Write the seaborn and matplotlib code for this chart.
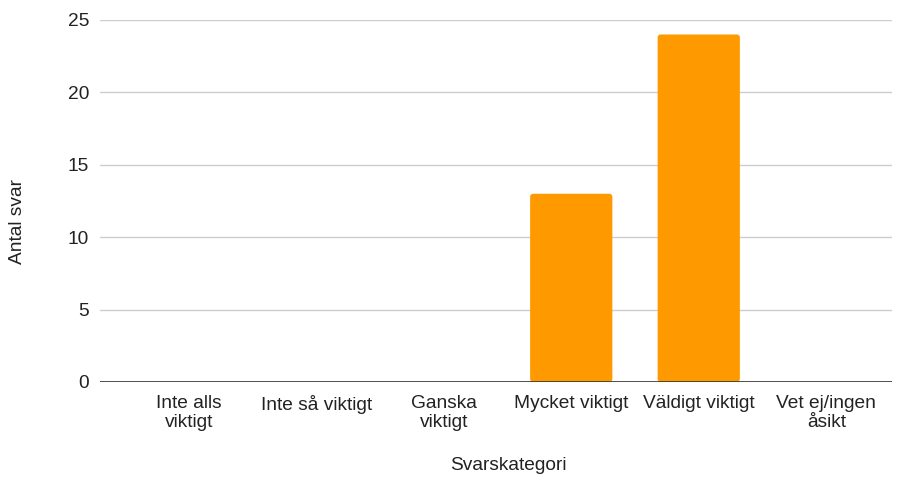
import matplotlib
matplotlib.use("Agg")
import matplotlib.pyplot as plt
import seaborn as sns
import pandas as pd
from matplotlib.patches import FancyBboxPatch

categories = ["Inte alls\nviktigt", "Inte så viktigt", "Ganska\nviktigt",
              "Mycket viktigt", "Väldigt viktigt", "Vet ej/ingen\nåsikt"]
values = [0, 0, 0, 13, 24, 0]
yticks = [0, 5, 10, 15, 20, 25]

sns.set_theme(style="white")
plt.rcParams['font.family'] = ['Liberation Sans', 'DejaVu Sans']

df = pd.DataFrame({"cat": categories, "val": values})

fig = plt.figure(figsize=(9.04, 4.88), dpi=100)
ax = fig.add_axes([100/904, 1-382/488, (892-100)/904, (382-20)/488])

sns.barplot(data=df, x="cat", y="val", color="#ff9900", width=0.645,
            saturation=1, ax=ax, zorder=3)

# rounded corners
for p in list(ax.patches):
    if p.get_height() > 0:
        x, y, w, h = p.get_x(), p.get_y(), p.get_width(), p.get_height()
        fb = FancyBboxPatch((x, y), w, h, boxstyle="round,pad=0,rounding_size=0.024",
                            mutation_aspect=8.8,
                            facecolor="#ff9900", edgecolor="none", zorder=3)
        p.set_visible(False)
        ax.add_patch(fb)

ax.set_xlim(-0.5 - 25/127.5, 5.5 + 2/127.5)
ax.set_ylim(0, 25)
ax.set_yticks(yticks)
ax.set_yticklabels([str(v) for v in yticks])
ax.grid(axis="y", color="#cccccc", linewidth=1, zorder=0)
ax.axhline(0, color="#333333", linewidth=1.2, zorder=4)
for s in ax.spines.values():
    s.set_visible(False)
ax.tick_params(axis="both", length=0, labelsize=13.8, colors="#222222")
ax.tick_params(axis="y", pad=8)
ax.tick_params(axis="x", pad=9)
ax.set_xlabel("Svarskategori", fontsize=13.8, color="#222222")
ax.set_ylabel("Antal svar", fontsize=13.8, color="#222222")
ax.xaxis.set_label_coords((508 - 100) / 792, -(466 - 382) / 362)
ax.yaxis.set_label_coords((18 - 100) / 792, (382 - 221) / 362)
ax.xaxis.label.set_va("center")
ax.yaxis.label.set_va("center")

fig.savefig("out.png", dpi=100, facecolor="white")
